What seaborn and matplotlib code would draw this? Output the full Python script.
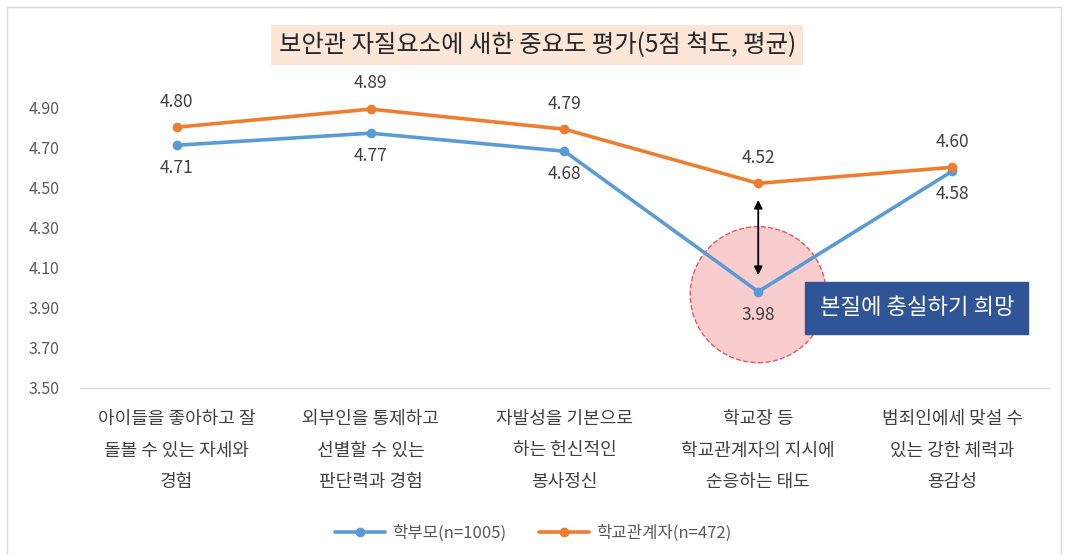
import matplotlib
matplotlib.use("Agg")
import matplotlib.pyplot as plt
import seaborn as sns
import pandas as pd
from matplotlib.patches import Rectangle
from matplotlib.lines import Line2D

categories = [
    "아이들을 좋아하고 잘\n돌볼 수 있는 자세와\n경험",
    "외부인을 통제하고\n선별할 수 있는\n판단력과 경험",
    "자발성을 기본으로\n하는 헌신적인\n봉사정신",
    "학교장 등\n학교관계자의 지시에\n순응하는 태도",
    "범죄인에세 맞설 수\n있는 강한 체력과\n용감성",
]
parents = [4.71, 4.77, 4.68, 3.98, 4.58]
staff = [4.80, 4.89, 4.79, 4.52, 4.60]
series_names = ["학부모(n=1005)", "학교관계자(n=472)"]
yticks = [3.50, 3.70, 3.90, 4.10, 4.30, 4.50, 4.70, 4.90]
title = "보안관 자질요소에 새한 중요도 평가(5점 척도, 평균)"
callout = "본질에 충실하기 희망"

sns.set_theme(style="white")
plt.rcParams["font.family"] = ["Noto Sans CJK KR", "DejaVu Sans"]

BLUE = "#5B9BD5"
ORANGE = "#ED7D31"

rows = []
for i, v in enumerate(parents):
    rows.append({"idx": i, "value": v, "series": series_names[0]})
for i, v in enumerate(staff):
    rows.append({"idx": i, "value": v, "series": series_names[1]})
df = pd.DataFrame(rows)

fig = plt.figure(figsize=(10.66, 5.55), dpi=100)
# outer frame
fig.patches.append(Rectangle((0.007, -0.01), 0.988, 0.997, transform=fig.transFigure,
                             fill=False, edgecolor="#D9D9D9", linewidth=1.0))
ax = fig.add_axes([0.075, 0.301, 0.909, 0.506])

# highlight circle behind blue low point
ax.scatter([3], [parents[3] - 0.015], s=9600, facecolor="#F8C5C5", edgecolor="#E0404A",
           linewidths=1.0, linestyles="--", alpha=0.85, zorder=1, clip_on=False)

sns.lineplot(data=df, x="idx", y="value", hue="series", palette=[BLUE, ORANGE],
             marker="o", markersize=7, markeredgewidth=0, linewidth=2.6,
             ax=ax, legend=False, zorder=3)
for ln in ax.lines:
    ln.set_clip_on(False)

ax.set_xlim(-0.5, 4.5)
ax.set_ylim(3.5, 4.9)
ax.set_yticks(yticks)
ax.set_yticklabels([f"{t:.2f}" for t in yticks], color="#595959", fontsize=11.5)
ax.set_xticks(range(len(categories)))
ax.set_xticklabels(categories, fontsize=13, color="#404040", linespacing=1.95)
ax.tick_params(axis="x", length=0, pad=16)
ax.tick_params(axis="y", length=0, pad=37)
for lab in ax.get_yticklabels():
    lab.set_horizontalalignment("left")
ax.set_xlabel("")
ax.set_ylabel("")
for s in ["top", "right", "left"]:
    ax.spines[s].set_visible(False)
ax.spines["bottom"].set_color("#D9D9D9")
ax.spines["bottom"].set_linewidth(1.0)

for i, v in enumerate(staff):
    ax.annotate(f"{v:.2f}", (i, v), xytext=(0, 12), textcoords="offset points",
                ha="center", va="bottom", fontsize=12.5, color="#404040")
for i, v in enumerate(parents):
    ax.annotate(f"{v:.2f}", (i, v), xytext=(0, -10), textcoords="offset points",
                ha="center", va="top", fontsize=12.5, color="#404040")

# double-headed arrow
ax.annotate("", xy=(3, parents[3]), xytext=(3, staff[3]),
            arrowprops=dict(arrowstyle="<|-|>", color="black", lw=1.3,
                            shrinkA=12, shrinkB=12, mutation_scale=12), zorder=4)

# callout box
fig.text(0.860, 1 - 308 / 555, callout, ha="center", va="center", fontsize=16,
         color="white", zorder=10,
         bbox=dict(boxstyle="square,pad=0.65", facecolor="#2F5597", edgecolor="#2F5597"))

# title
fig.text(0.504, 1 - 45 / 555, title, ha="center", va="center", fontsize=17.5,
         color="#262626",
         bbox=dict(boxstyle="square,pad=0.3", facecolor="#FCE6D8", edgecolor="none"))

# legend
handles = [Line2D([0], [0], color=BLUE, lw=2.6, marker="o", markersize=6),
           Line2D([0], [0], color=ORANGE, lw=2.6, marker="o", markersize=6)]
fig.legend(handles, series_names, loc="center", bbox_to_anchor=(0.5, 1 - 533 / 555),
           ncol=2, frameon=False, fontsize=12, handlelength=3.0, handletextpad=0.4,
           columnspacing=2.0, labelcolor="#595959")

fig.savefig("out.png", dpi=100)
